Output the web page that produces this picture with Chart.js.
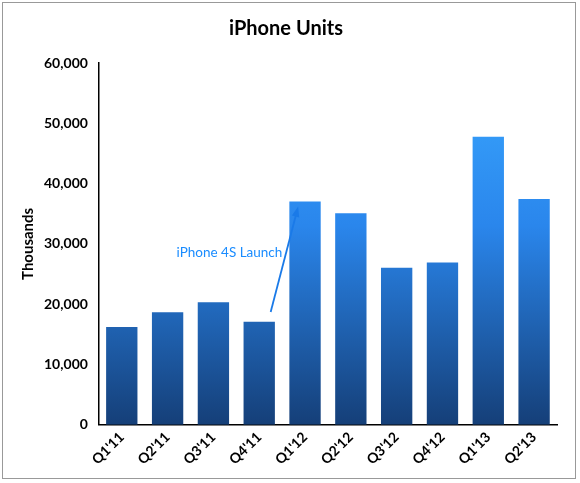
<!DOCTYPE html>
<html><head><meta charset="utf-8">
<script src="https://cdn.jsdelivr.net/npm/chart.js@4"></script>
<style>
html,body{margin:0;padding:0;background:#fff;}
#wrap{position:absolute;left:2px;top:2px;width:574px;height:477px;border:1px solid #999;box-sizing:border-box;}
</style></head>
<body>
<div id="wrap"><canvas id="c"></canvas></div>
<script>
const categories = ["Q1'11","Q2'11","Q3'11","Q4'11","Q1'12","Q2'12","Q3'12","Q4'12","Q1'13","Q2'13"];
const units = [16240,18650,20340,17070,37044,35064,26028,26910,47789,37430];
const yTicks = [0,10000,20000,30000,40000,50000,60000];
const annotationText = "iPhone 4S Launch";
const arrowFrom = [3.25, 18700];
const arrowTo = [3.85, 36200];
const textPos = [2.35, 28600];

const annot = {
  id:'annot',
  afterDatasetsDraw(chart){
    const {ctx, scales:{x,y}} = chart;
    const px = v => x.getPixelForValue(0) + (x.getPixelForValue(1)-x.getPixelForValue(0))*v;
    ctx.save();
    ctx.fillStyle='#1a8cff';
    ctx.font='13.5px Lato';
    ctx.textAlign='center'; ctx.textBaseline='middle';
    ctx.fillText(annotationText, px(textPos[0]), y.getPixelForValue(textPos[1]));
    const x1=px(arrowFrom[0]), y1=y.getPixelForValue(arrowFrom[1]);
    const x2=px(arrowTo[0]), y2=y.getPixelForValue(arrowTo[1]);
    ctx.strokeStyle='#1a7ae8'; ctx.lineWidth=1.8;
    const a=Math.atan2(y2-y1,x2-x1), L=11;
    ctx.beginPath(); ctx.moveTo(x1,y1); ctx.lineTo(x2-L*0.8*Math.cos(a),y2-L*0.8*Math.sin(a)); ctx.stroke();
    ctx.fillStyle='#1a7ae8';
    ctx.beginPath(); ctx.moveTo(x2,y2);
    ctx.lineTo(x2-L*Math.cos(a-0.35), y2-L*Math.sin(a-0.35));
    ctx.lineTo(x2-L*Math.cos(a+0.35), y2-L*Math.sin(a+0.35));
    ctx.closePath(); ctx.fill();
    ctx.restore();
  }
};

new Chart(document.getElementById('c'), {
  type:'bar',
  data:{labels:categories, datasets:[{data:units,
    backgroundColor(ctx){
      const ca=ctx.chart.chartArea; if(!ca) return '#2a80e0';
      const g=ctx.chart.ctx.createLinearGradient(0,ca.top,0,ca.bottom);
      g.addColorStop(0,'#3aa8ff'); g.addColorStop(0.45,'#2a86ec'); g.addColorStop(1,'#153f78');
      return g;
    },
    categoryPercentage:0.72, barPercentage:0.95}]},
  options:{
    responsive:true, maintainAspectRatio:false, animation:false,
    layout:{padding:{left:12,right:18,top:6,bottom:6}},
    plugins:{legend:{display:false}, tooltip:{enabled:false},
      title:{display:true, text:'iPhone Units', color:'#000', font:{family:'Lato',size:20,weight:'bold'}, padding:{top:8,bottom:22}}},
    scales:{
      x:{grid:{display:false, drawTicks:false}, border:{color:'#000',width:1.5},
        ticks:{color:'#000', maxRotation:45, minRotation:45, padding:4, font:{family:'Lato',size:14,weight:'bold'}}},
      y:{min:0,max:60000, afterBuildTicks(ax){ax.ticks=yTicks.map(v=>({value:v}));},
        grid:{display:false}, border:{color:'#000',width:1.5},
        ticks:{color:'#000', font:{family:'Lato',size:14,weight:'bold'}, callback:v=>v.toLocaleString('en-US')},
        title:{display:true,text:'Thousands',color:'#000',font:{family:'Lato',size:15,weight:'bold'}}}
    }
  },
  plugins:[annot]
});
</script>
</body></html>
